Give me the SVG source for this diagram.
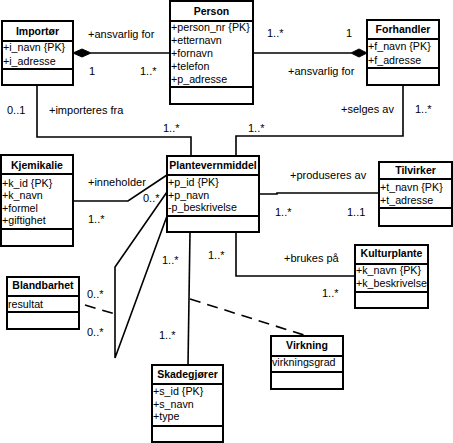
<svg xmlns="http://www.w3.org/2000/svg" width="453" height="443" viewBox="0 0 453 443">
<style>
.box{fill:#fff;stroke:#000;stroke-width:2}
.sep{stroke:#000;stroke-width:2}
.ln{fill:none;stroke:#000;stroke-width:1.6}
.dash{fill:none;stroke:#000;stroke-width:1.6;stroke-dasharray:11,7}
.dia{fill:#000;stroke:#000;stroke-width:1}
text{font-family:"Liberation Sans",Arial,sans-serif;font-size:11px;fill:#000}
.a{font-size:10.7px}
.t{font-weight:bold;font-size:10.5px;text-anchor:middle}
</style>
<rect width="453" height="443" fill="#fff"/>
<g id="connectors">
<line class="ln" x1="91" y1="53" x2="170" y2="53"/>
<polygon class="dia" points="73,53 82,49 91,53 82,57"/>
<line class="ln" x1="253" y1="53" x2="351" y2="53"/>
<polygon class="dia" points="351,53 359,49 367,53 359,57"/>
<polyline class="ln" points="37,85 37,137 191,137 191,156"/>
<polyline class="ln" points="403,85 403,136 236,136 236,156"/>
<polyline class="ln" points="73,201 128,201 167,175"/>
<polyline class="ln" points="259,194 277,194 277,193 379,193"/>
<polyline class="ln" points="236,232 236,276 355,276"/>
<polyline class="ln" points="167,192 115,267 115,358 167,216"/>
<line class="dash" x1="85" y1="305" x2="115" y2="314"/>
<line class="ln" x1="190" y1="232" x2="188" y2="365"/>
<line class="dash" x1="190" y1="299" x2="307" y2="336"/>
<text x="88" y="38">+ansvarlig for</text>
<text x="89" y="75">1</text>
<text x="140" y="75">1..*</text>
<text x="267" y="37">1..*</text>
<text x="346" y="37">1</text>
<text x="288" y="75">+ansvarlig for</text>
<text x="7" y="114">0..1</text>
<text x="49" y="114">+importeres fra</text>
<text x="163" y="132">1..*</text>
<text x="341" y="113">+selges av</text>
<text x="415" y="113">1..*</text>
<text x="248" y="132">1..*</text>
<text x="88" y="186">+inneholder</text>
<text x="143" y="202">0..*</text>
<text x="88" y="223">1..*</text>
<text x="290" y="179">+produseres av</text>
<text x="275" y="216">1..*</text>
<text x="347" y="216">1..1</text>
<text x="284" y="262">+brukes på</text>
<text x="322" y="297">1..*</text>
<text x="162" y="264">1..*</text>
<text x="208" y="259">1..*</text>
<text x="87" y="298">0..*</text>
<text x="87" y="336">0..*</text>
<text x="159" y="339">1..*</text>
</g>
<g id="person">
<rect class="box" x="170" y="1" width="83" height="103"/>
<line class="sep" x1="170" y1="21" x2="253" y2="21"/>
<line class="sep" x1="170" y1="87" x2="253" y2="87"/>
<text class="t" x="211.5" y="15">Person</text>
<text class="a" x="171" y="31">+person_nr {PK}</text>
<text class="a" x="171" y="44">+etternavn</text>
<text class="a" x="171" y="57">+fornavn</text>
<text class="a" x="171" y="70">+telefon</text>
<text class="a" x="171" y="83">+p_adresse</text>
</g>
<g id="importor">
<rect class="box" x="2" y="21" width="71" height="64"/>
<line class="sep" x1="2" y1="41" x2="73" y2="41"/>
<line class="sep" x1="2" y1="69" x2="73" y2="69"/>
<text class="t" x="37.5" y="35">Importør</text>
<text class="a" x="3" y="51">+i_navn {PK}</text>
<text class="a" x="3" y="65">+i_adresse</text>
</g>
<g id="forhandler">
<rect class="box" x="367" y="20" width="72" height="65"/>
<line class="sep" x1="367" y1="39" x2="439" y2="39"/>
<line class="sep" x1="367" y1="68" x2="439" y2="68"/>
<text class="t" x="403" y="33">Forhandler</text>
<text class="a" x="368" y="50">+f_navn {PK}</text>
<text class="a" x="368" y="64">+f_adresse</text>
</g>
<g id="kjemikalie">
<rect class="box" x="1" y="155" width="72" height="91"/>
<line class="sep" x1="1" y1="174" x2="73" y2="174"/>
<line class="sep" x1="1" y1="229" x2="73" y2="229"/>
<text class="t" x="37" y="169">Kjemikalie</text>
<text class="a" x="2" y="187">+k_id {PK}</text>
<text class="a" x="2" y="199">+k_navn</text>
<text class="a" x="2" y="212">+formel</text>
<text class="a" x="2" y="224">+giftighet</text>
</g>
<g id="plantevernmiddel">
<rect class="box" x="167" y="156" width="92" height="76"/>
<line class="sep" x1="167" y1="175" x2="259" y2="175"/>
<line class="sep" x1="167" y1="216" x2="259" y2="216"/>
<text class="t" x="213" y="169">Plantevernmiddel</text>
<text class="a" x="168" y="186">+p_id {PK}</text>
<text class="a" x="168" y="199">+p_navn</text>
<text class="a" x="168" y="211">-p_beskrivelse</text>
</g>
<g id="tilvirker">
<rect class="box" x="379" y="162" width="73" height="64"/>
<line class="sep" x1="379" y1="179" x2="452" y2="179"/>
<line class="sep" x1="379" y1="208" x2="452" y2="208"/>
<text class="t" x="415.5" y="174">Tilvirker</text>
<text class="a" x="380" y="191">+t_navn {PK}</text>
<text class="a" x="380" y="204">+t_adresse</text>
</g>
<g id="kulturplante">
<rect class="box" x="355" y="245" width="73" height="63"/>
<line class="sep" x1="355" y1="264" x2="428" y2="264"/>
<line class="sep" x1="355" y1="292" x2="428" y2="292"/>
<text class="t" x="391.5" y="257">Kulturplante</text>
<text class="a" x="356" y="274">+k_navn {PK}</text>
<text class="a" x="356" y="287">+k_beskrivelse</text>
</g>
<g id="blandbarhet">
<rect class="box" x="7" y="277" width="72" height="52"/>
<line class="sep" x1="7" y1="296" x2="79" y2="296"/>
<line class="sep" x1="7" y1="312" x2="79" y2="312"/>
<text class="t" x="43" y="289">Blandbarhet</text>
<text class="a" x="8" y="308">resultat</text>
</g>
<g id="skadegjorer">
<rect class="box" x="152" y="365" width="71" height="77"/>
<line class="sep" x1="152" y1="384" x2="223" y2="384"/>
<line class="sep" x1="152" y1="426" x2="223" y2="426"/>
<text class="t" x="187.5" y="378">Skadegjører</text>
<text class="a" x="153" y="395">+s_id {PK}</text>
<text class="a" x="153" y="408">+s_navn</text>
<text class="a" x="153" y="420">+type</text>
</g>
<g id="virkning">
<rect class="box" x="271" y="336" width="72" height="53"/>
<line class="sep" x1="271" y1="356" x2="343" y2="356"/>
<line class="sep" x1="271" y1="372" x2="343" y2="372"/>
<text class="t" x="307" y="349">Virkning</text>
<text class="a" x="272" y="366">virkningsgrad</text>
</g>
</svg>
